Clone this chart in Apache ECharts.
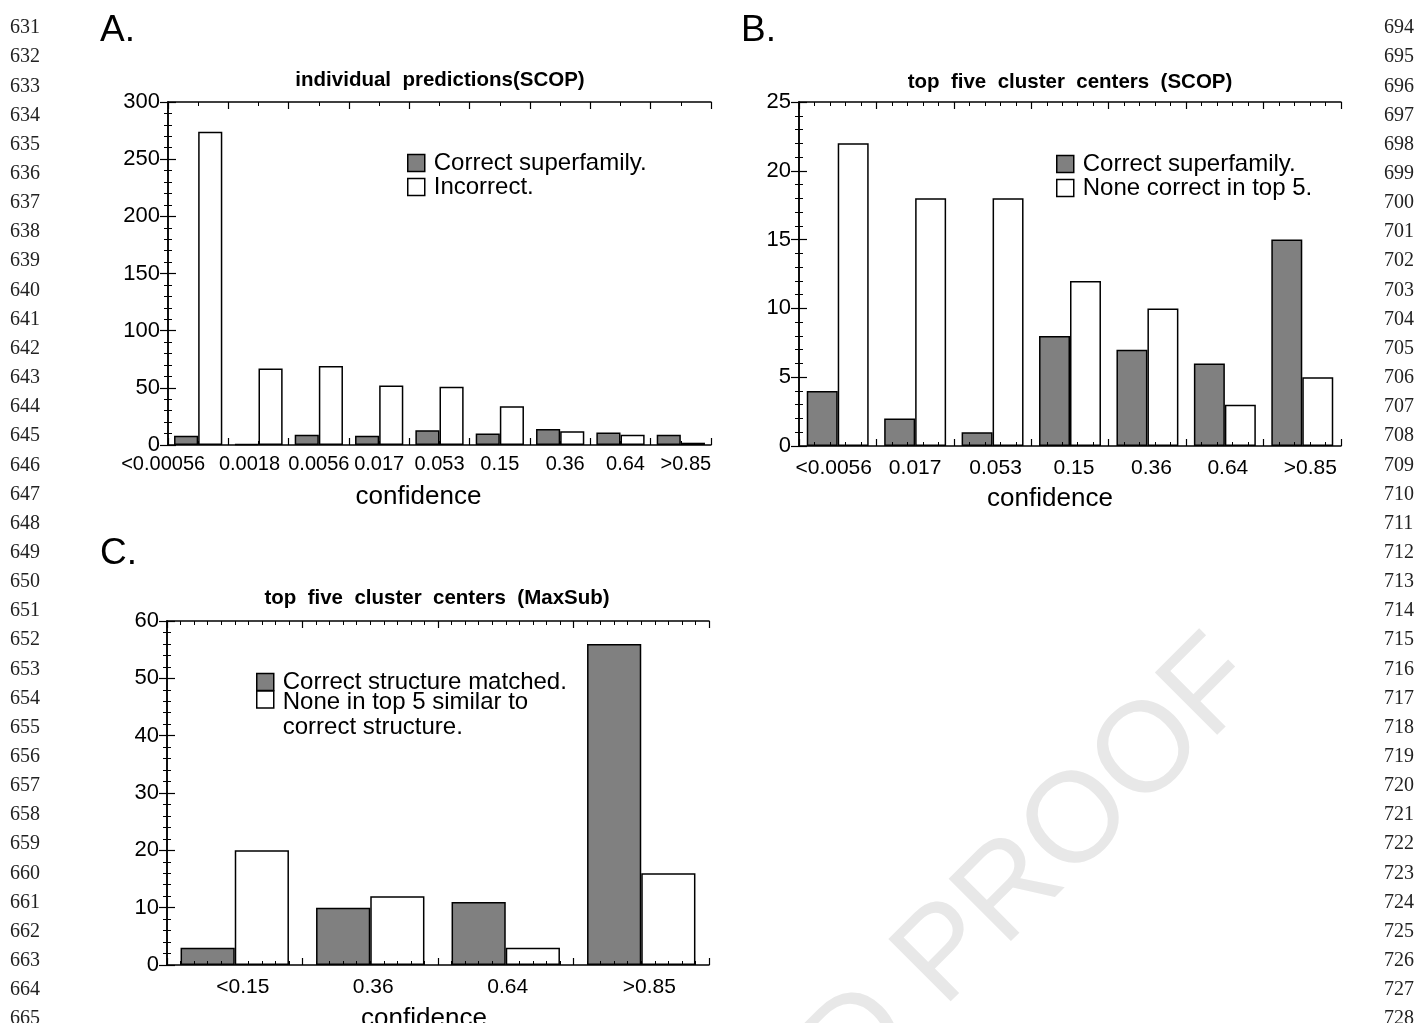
<!DOCTYPE html>
<html>
<head>
<meta charset="utf-8">
<script src="https://cdn.jsdelivr.net/npm/echarts@6/dist/echarts.min.js"></script>
<style>
html,body{margin:0;padding:0;background:#fff;}
#c{width:1418px;height:1023px;}
</style>
</head>
<body>
<div id="c"></div>
<script>
// ---------- data ----------
const A_categories = ['<0.00056','0.0018','0.0056','0.017','0.053','0.15','0.36','0.64','>0.85'];
const A_correct    = [8, 1, 9, 8, 13, 10, 14, 11, 9];
const A_incorrect  = [274, 67, 69, 52, 51, 34, 12, 9, 2];

const B_categories = ['<0.0056','0.017','0.053','0.15','0.36','0.64','>0.85'];
const B_correct    = [4, 2, 1, 8, 7, 6, 15];
const B_none       = [22, 18, 18, 12, 10, 3, 5];

const C_categories = ['<0.15','0.36','0.64','>0.85'];
const C_correct    = [3, 10, 11, 56];
const C_none       = [20, 12, 3, 16];

const A_names = ['Correct superfamily.', 'Incorrect.'];
const B_names = ['Correct superfamily.', 'None correct in top 5.'];
const C_names = ['Correct structure matched.', 'None in top 5 similar to correct structure.'];

const titles = ['individual  predictions(SCOP)', 'top  five  cluster  centers  (SCOP)', 'top  five  cluster  centers  (MaxSub)'];
const panelLetters = ['A.', 'B.', 'C.'];
const xAxisName = 'confidence';

const leftLineStart = 631, rightLineStart = 694, lineCount = 35;

// ---------- layout / style ----------
const FONT = '"Liberation Sans", Arial, Helvetica, sans-serif';
const GRAY = '#808080';
const grids = [
  {left: 168, top: 102, width: 543, height: 343},
  {left: 799, top: 102, width: 542, height: 344},
  {left: 167, top: 621, width: 542, height: 344}
];
const labelShift = [
  [-35, -9, 0, 0, 0, 0, 5, 5, 5],
  [-4, 0, 3, 4, 4, 3, 8],
  [8, 3, 2, 8]
];
const labelMargin = [9, 12, 12];
const nameGaps = [39, 40, 41];
const nameShift = [-21, -20, -14];

const option = {
  animation: false,
  backgroundColor: '#fff',
  textStyle: {fontFamily: FONT, color: '#000'},
  grid: grids.map(g => Object.assign({outerBoundsMode: 'none', containLabel: false, show: false}, g)),
  title: [],
  legend: [],
  xAxis: [],
  yAxis: [],
  series: [],
  graphic: []
};

function richFor(panel, n) {
  const r = {};
  for (let i = 0; i < n; i++) {
    const s = labelShift[panel][i] || 0;
    r['s' + i] = {
      fontSize: panel === 0 ? 20 : 21, fontFamily: FONT, color: '#000',
      padding: s >= 0 ? [0, 0, 0, 2 * s] : [0, -2 * s, 0, 0]
    };
  }
  return r;
}

function addPanel(p, cats, v1, v2, names, yMax, yInt, yMinor, xMinor) {
  const n = cats.length;
  const base = option.xAxis.length;
  const ybase = option.yAxis.length;
  const axisLine = {show: true, lineStyle: {color: '#000', width: 1.5}};
  const sh = nameShift[p];
  option.xAxis.push({
    type: 'category', gridIndex: p, data: cats, position: 'bottom',
    axisLine: {show: false}, axisTick: {show: false}, splitLine: {show: false},
    axisLabel: {
      interval: 0, margin: labelMargin[p], color: '#000', fontSize: p === 0 ? 20 : 21, fontFamily: FONT,
      formatter: (v, i) => '{s' + i + '|' + v + '}',
      rich: richFor(p, n)
    },
    name: xAxisName, nameLocation: 'middle', nameGap: nameGaps[p],
    nameTextStyle: {fontSize: 26, color: '#000', fontFamily: FONT,
      padding: sh < 0 ? [0, -2 * sh, 0, 0] : [0, 0, 0, 2 * sh]}
  });
  ['bottom', 'top'].forEach(pos => {
    option.xAxis.push({
      type: 'value', gridIndex: p, min: 0, max: n, interval: 1, position: pos, z: 5,
      axisLine: axisLine,
      axisTick: {show: true, inside: true, length: 7, lineStyle: {color: '#000', width: 1.2}},
      minorTick: {show: true, splitNumber: xMinor, length: 4, lineStyle: {color: '#000', width: 1}},
      axisLabel: {show: false}, splitLine: {show: false}, minorSplitLine: {show: false}
    });
  });
  ['left', 'right'].forEach(pos => {
    option.yAxis.push({
      type: 'value', gridIndex: p, min: 0, max: yMax, interval: yInt, position: pos, z: 5,
      axisLine: axisLine,
      axisTick: {show: true, inside: true, length: 8, lineStyle: {color: '#000', width: 1.2}},
      minorTick: {show: true, splitNumber: yMinor, length: 4, lineStyle: {color: '#000', width: 1}},
      axisLabel: {show: pos === 'left', margin: 8, color: '#000', fontSize: 22, fontFamily: FONT},
      splitLine: {show: false}, minorSplitLine: {show: false}
    });
  });
  const common = {type: 'bar', xAxisIndex: base, yAxisIndex: ybase, barGap: '0%', barCategoryGap: '20%'};
  option.series.push(Object.assign({name: names[0], data: v1,
    itemStyle: {color: GRAY, borderColor: '#000', borderWidth: 1.5}}, common));
  option.series.push(Object.assign({name: names[1], data: v2,
    itemStyle: {color: '#fff', borderColor: '#000', borderWidth: 1.5}}, common));
}

addPanel(0, A_categories, A_correct, A_incorrect, A_names, 300, 50, 5, 2);
addPanel(1, B_categories, B_correct, B_none, B_names, 25, 5, 5, 5);
addPanel(2, C_categories, C_correct, C_none, C_names, 60, 10, 5, 10);

// titles
const titlePos = [{x: 440, y: 70}, {x: 1070, y: 72}, {x: 437, y: 588}];
titles.forEach((t, i) => {
  option.title.push({text: t, left: titlePos[i].x, top: titlePos[i].y, textAlign: 'center', padding: 0,
    textStyle: {fontSize: 20.5, fontWeight: 'bold', color: '#000', fontFamily: FONT}});
});
const letterPos = [{x: 100, y: 12}, {x: 741, y: 12}, {x: 100, y: 535}];
panelLetters.forEach((t, i) => {
  option.title.push({text: t, left: letterPos[i].x, top: letterPos[i].y, padding: 0,
    textStyle: {fontSize: 37, fontWeight: 'normal', color: '#000', fontFamily: FONT}});
});

// legends
function legendRich(lh, emptyLh) {
  return {fontSize: 24, color: '#000', fontFamily: FONT, lineHeight: lh,
    rich: {
      t: {fontSize: 24, color: '#000', fontFamily: FONT, lineHeight: lh, padding: [0, 0, 0, 4]},
      e: {fontSize: 24, lineHeight: emptyLh || lh}
    }};
}
const legendBase = {orient: 'vertical', padding: 0, itemGap: 0, itemWidth: 17, itemHeight: 17,
  icon: 'rect', selectedMode: false, itemStyle: {borderColor: '#000', borderWidth: 1.5}};
option.legend.push(Object.assign({}, legendBase, {left: 407, top: 151, data: A_names,
  formatter: nm => '{t|' + nm + '}', textStyle: legendRich(20)}));
option.legend.push(Object.assign({}, legendBase, {left: 1056, top: 152, data: B_names,
  formatter: nm => '{t|' + nm + '}', textStyle: legendRich(23)}));
option.legend.push(Object.assign({}, legendBase, {left: 256, top: 670, data: [C_names[0]],
  formatter: nm => '{t|' + nm + '}', textStyle: legendRich(20)}));
option.legend.push(Object.assign({}, legendBase, {left: 256, top: 659, data: [C_names[1]],
  formatter: nm => {
    const k = nm.indexOf(' correct structure.');
    return '{e| }\n{t|' + nm.slice(0, k) + '}\n{t|' + nm.slice(k + 1) + '}';
  },
  textStyle: legendRich(25, 31)}));

// watermark
option.graphic.push({
  type: 'text', x: 1240, y: 662, rotation: Math.PI / 4, z: -10, silent: true,
  style: {text: 'UNCORRECTED PROOF', font: '128px ' + FONT, fill: '#e8e8e8',
    align: 'right', verticalAlign: 'middle', textAlign: 'right', textVerticalAlign: 'middle'}
});

// line numbers
const numFont = '20px "Liberation Serif", "DejaVu Serif", serif';
for (let i = 0; i < lineCount; i++) {
  const y = 28 + i * 29.15;
  option.graphic.push({type: 'text', x: 10, y: y, silent: true,
    style: {text: String(leftLineStart + i), font: numFont, fill: '#222',
      align: 'left', verticalAlign: 'middle', textAlign: 'left', textVerticalAlign: 'middle'}});
  option.graphic.push({type: 'text', x: 1384, y: y, silent: true,
    style: {text: String(rightLineStart + i), font: numFont, fill: '#222',
      align: 'left', verticalAlign: 'middle', textAlign: 'left', textVerticalAlign: 'middle'}});
}

const chart = echarts.init(document.getElementById('c'), null, {renderer: 'canvas'});
chart.setOption(option);
</script>
</body>
</html>
